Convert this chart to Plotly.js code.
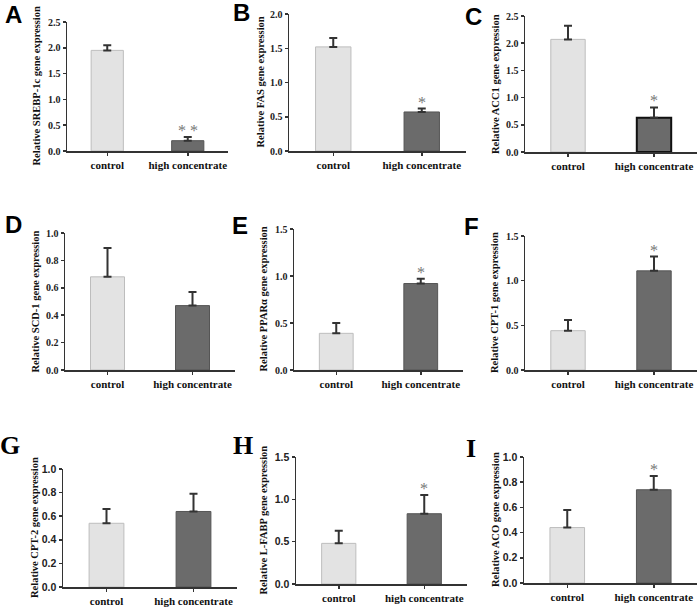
<!DOCTYPE html>
<html lang="en">
<head>
  <meta charset="UTF-8">
  <title>Relative gene expression, control vs high concentrate</title>
  <script src="https://cdn.plot.ly/plotly-3.0.1.min.js"></script>
  <style>
    body { margin: 0; background: #ffffff; }
    #chart { width: 700px; height: 609px; }
  </style>
</head>
<body>
  <div id="chart"></div>

  <script>
    // data
    const categories = ['control', 'high concentrate'];
    const genes = ['SREBP-1c', 'FAS', 'ACC1', 'SCD-1', 'PPARα', 'CPT-1', 'CPT-2', 'L-FABP', 'ACO'];
    const panelLetters = ['A', 'B', 'C', 'D', 'E', 'F', 'G', 'H', 'I'];
    const controlMean = [1.95, 1.52, 2.07, 0.68, 0.39, 0.44, 0.54, 0.48, 0.44];
    const controlErr  = [0.10, 0.13, 0.25, 0.21, 0.11, 0.12, 0.12, 0.15, 0.14];
    const highMean    = [0.20, 0.57, 0.63, 0.47, 0.92, 1.11, 0.64, 0.83, 0.74];
    const highErr     = [0.07, 0.05, 0.19, 0.10, 0.05, 0.16, 0.15, 0.22, 0.11];
    const yMax  = [2.5, 2.0, 2.5, 1.0, 1.5, 1.5, 1.0, 1.5, 1.0];
    const yStep = [0.5, 0.5, 0.5, 0.2, 0.5, 0.5, 0.2, 0.5, 0.2];
    const stars = ['* *', '*', '*', '', '*', '*', '', '*', '*'];

    // panel boxes in pixels: [left, right, top, bottom] of the axes
    const W = 700, H = 609;
    const boxes = [
      [67, 228, 22, 151], [289, 466, 14, 151], [525, 697, 16, 152],
      [65, 235, 233, 370], [294, 463, 229, 370], [525, 697, 236, 370],
      [63, 237, 469, 587], [296, 467, 457, 584], [524, 697, 457, 583]
    ];
    const letterPos = [
      [13, 15], [241, 13], [473, 17],
      [13, 224], [240, 225], [471, 226],
      [10, 445], [243, 445], [471, 448]
    ];
    const titleX = [36, 260, 495, 35, 263, 495, 34, 263, 495];

    const serif = "'Liberation Serif', 'Times New Roman', serif";
    const sans = "'Liberation Sans', Arial, sans-serif";
    const lightFill = '#e3e3e3', lightLine = '#bdbdbd';
    const darkFill = '#6b6b6b', darkLine = '#555555';

    const data = [];
    const layout = {
      width: W, height: H,
      margin: { l: 0, r: 0, t: 0, b: 0 },
      paper_bgcolor: '#ffffff',
      plot_bgcolor: '#ffffff',
      font: { family: serif },
      showlegend: false,
      annotations: []
    };

    for (let i = 0; i < genes.length; i++) {
      const s = i === 0 ? '' : String(i + 1);
      const [l, r, t, b] = boxes[i];
      const bottomRow = i >= 6;
      const tickFamily = bottomRow ? sans : serif;

      data.push({
        type: 'bar',
        x: categories,
        y: [controlMean[i], highMean[i]],
        width: 0.4,
        xaxis: 'x' + s,
        yaxis: 'y' + s,
        marker: {
          color: [lightFill, darkFill],
          line: { color: [lightLine, i === 2 ? '#111111' : darkLine], width: [1, i === 2 ? 2 : 1] }
        },
        error_y: {
          type: 'data',
          symmetric: false,
          array: [controlErr[i], highErr[i]],
          arrayminus: [0, 0],
          color: '#333333',
          thickness: 2,
          width: 4
        },
        hoverinfo: 'x+y'
      });

      layout['xaxis' + s] = {
        domain: [l / W, r / W],
        anchor: 'y' + s,
        type: 'category',
        range: [-0.5, 1.5],
        showline: true, linecolor: '#333333', linewidth: 1.5,
        ticks: 'outside', ticklen: 3, tickcolor: '#333333', tickwidth: 1.5,
        tickfont: { family: serif, size: 11, color: '#111111', weight: 'bold' },
        showgrid: false, zeroline: false, fixedrange: true
      };
      layout['yaxis' + s] = {
        domain: [1 - b / H, 1 - t / H],
        anchor: 'x' + s,
        range: [0, yMax[i]],
        dtick: yStep[i],
        tickformat: '.1f',
        showline: true, linecolor: '#333333', linewidth: 1.5,
        ticks: 'outside', ticklen: 3, tickcolor: '#333333', tickwidth: 1.5,
        tickfont: { family: tickFamily, size: bottomRow ? 10.5 : 10, color: '#222222', weight: 'bold' },
        showgrid: false, zeroline: false, fixedrange: true
      };

      // y title
      layout.annotations.push({
        xref: 'paper', yref: 'paper',
        x: titleX[i] / W, y: 1 - (t + b) / 2 / H,
        xanchor: 'center', yanchor: 'middle',
        textangle: -90, showarrow: false,
        text: 'Relative ' + genes[i] + ' gene expression',
        font: { family: serif, size: 10.5, color: '#111111', weight: 'bold' }
      });

      // panel letter
      layout.annotations.push({
        xref: 'paper', yref: 'paper',
        x: letterPos[i][0] / W, y: 1 - letterPos[i][1] / H,
        xanchor: 'center', yanchor: 'middle', showarrow: false,
        text: panelLetters[i],
        font: { family: bottomRow ? serif : sans, size: bottomRow ? 26 : 24, color: '#000000', weight: 'bold' }
      });

      // significance marks
      if (stars[i]) {
        layout.annotations.push({
          xref: 'x' + s, yref: 'y' + s,
          x: categories[1], y: highMean[i] + highErr[i],
          xanchor: 'center', yanchor: 'bottom', yshift: -4, showarrow: false,
          text: stars[i],
          font: { family: serif, size: 16, color: '#777777' }
        });
      }
    }

    Plotly.newPlot('chart', data, layout, { displayModeBar: false, staticPlot: true });
  </script>
</body>
</html>
